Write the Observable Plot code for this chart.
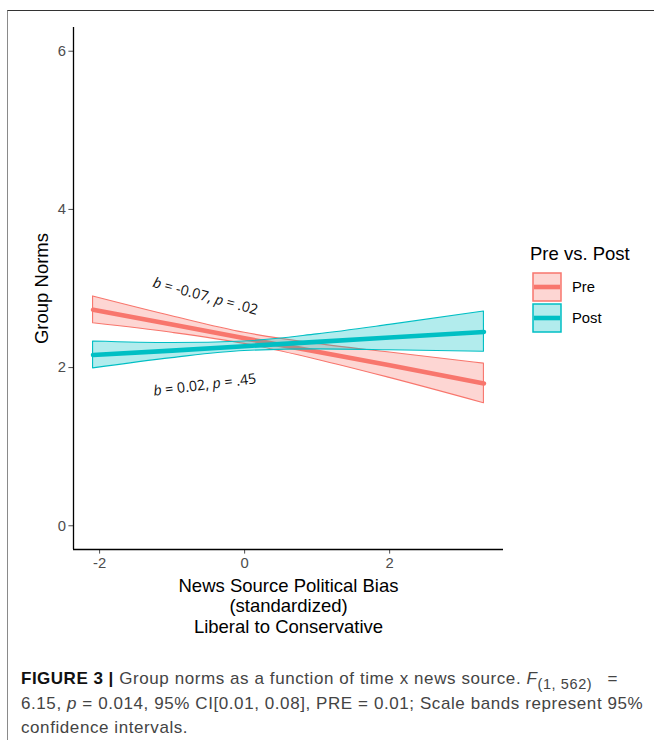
<!DOCTYPE html>
<html>
<head>
<meta charset="utf-8">
<script src="https://cdn.jsdelivr.net/npm/d3@7"></script>
<script src="https://cdn.jsdelivr.net/npm/@observablehq/plot@0.6"></script>
<style>
  html, body { margin: 0; padding: 0; background: #fff; }
  #page { position: relative; width: 654px; height: 740px; overflow: hidden; font-family: "Liberation Sans", Arial, sans-serif; }
  #frame { position: absolute; left: 7px; top: 10px; width: 647px; height: 730px; border-top: 1.5px solid #333; border-left: 1.5px solid #8a8a8a; box-sizing: border-box; }
  #chart { position: absolute; left: 0; top: 0; }
  #legend { position: absolute; left: 530px; top: 242px; color: #000; }
  #legend .title { font-size: 18.5px; line-height: 24px; margin-bottom: 5px; }
  #legend .item { position: relative; height: 31px; display: flex; align-items: center; }
  #legend .item span { font-size: 14.8px; margin-left: 10px; }
  #caption { position: absolute; left: 21px; top: 667px; font-size: 17px; letter-spacing: 0.58px; line-height: 24.5px; color: #444; white-space: nowrap; }
  #caption b { color: #111; letter-spacing: 0.5px; }
  #caption sub { font-size: 14.5px; vertical-align: -5px; line-height: 0; letter-spacing: 0.6px; margin-right: 10px; }
</style>
</head>
<body>
<div id="page">
  <div id="frame"></div>
  <div id="chart"></div>
  <div id="legend"></div>
  <div id="caption">
    <b>FIGURE 3 |</b> Group norms as a function of time x news source. <i>F</i><sub>(1,&nbsp;562)</sub> =<br>
    6.15, <i>p</i> = 0.014, 95% CI[0.01, 0.08], PRE = 0.01; Scale bands represent 95%<br>
    confidence intervals.
  </div>
</div>
<script>
// ---- data ----
const groups = ["Pre", "Post"];
const groupColors = ["#F8766D", "#00BFC4"];
const xs = [-2.09, -1, 0, 1, 2, 3.3];
const preFit  = [2.73, 2.545, 2.37, 2.20, 2.03, 1.80];
const preLow  = [2.56, 2.44, 2.30, 2.10, 1.87, 1.55];
const preHigh = [2.90, 2.65, 2.44, 2.30, 2.19, 2.05];
const postFit  = [2.16, 2.215, 2.27, 2.325, 2.38, 2.45];
const postLow  = [1.99, 2.12, 2.21, 2.23, 2.22, 2.20];
const postHigh = [2.33, 2.31, 2.33, 2.42, 2.54, 2.71];
const xTicks = [-2, 0, 2];
const yTicks = [0, 2, 4, 6];
const xDomain = [-2.36, 3.57];
const yDomain = [-0.3, 6.3];
const annoText = ["b = -0.07, p = .02", "b = 0.02, p = .45"];
const annoX = [-0.54, -0.55];
const annoY = [2.90, 1.78];
const annoAngle = [15, -7];
const xTitle = "News Source Political Bias\n(standardized)\nLiberal to Conservative";
const yTitle = "Group Norms";
const legendTitle = "Pre vs. Post";

const series = {
  Pre:  {fit: preFit,  lo: preLow,  hi: preHigh},
  Post: {fit: postFit, lo: postLow, hi: postHigh}
};
const rows = g => xs.map((x, i) => ({group: g, x, fit: series[g].fit[i], lo: series[g].lo[i], hi: series[g].hi[i]}));
const annos = annoText.map((t, i) => ({t, x: annoX[i], y: annoY[i], a: annoAngle[i]}));

const bandMarks = [];
groups.forEach((g, k) => {
  const c = groupColors[k];
  bandMarks.push(Plot.areaY(rows(g), {x: "x", y1: "lo", y2: "hi", fill: c, fillOpacity: 0.3, stroke: c, strokeWidth: 1.1, curve: "monotone-x"}));
  bandMarks.push(Plot.lineY(rows(g), {x: "x", y: "fit", stroke: c, strokeWidth: 4.6, curve: "linear"}));
});

const fmt = d => String(d);

const chart = Plot.plot({
  width: 654,
  height: 650,
  marginLeft: 73,
  marginRight: 151,
  marginTop: 27,
  marginBottom: 101,
  style: {fontFamily: "Liberation Sans, Arial, sans-serif", background: "transparent"},
  x: {domain: xDomain},
  y: {domain: yDomain},
  marks: [
    ...bandMarks,
    Plot.text(annos.filter(d => d.a > 0), {x: "x", y: "y", text: "t", rotate: annoAngle[0], fontSize: 14.3, fontFamily: "Open Sans, sans-serif", fill: "#111", className: "anno"}),
    Plot.text(annos.filter(d => d.a < 0), {x: "x", y: "y", text: "t", rotate: annoAngle[1], fontSize: 14.3, fontFamily: "Open Sans, sans-serif", fill: "#111", className: "anno"}),
    Plot.axisX({ticks: xTicks, tickFormat: fmt, tickSize: 4.6, tickPadding: 3, fontSize: 14.8, color: "#4d4d4d", label: null}),
    Plot.axisY({ticks: yTicks, tickFormat: fmt, tickSize: 4.6, tickPadding: 3, fontSize: 14.8, color: "#4d4d4d", label: null}),
    Plot.ruleX([xDomain[0]], {stroke: "#000", strokeWidth: 1.3}),
    Plot.ruleY([yDomain[0]], {stroke: "#000", strokeWidth: 1.3}),
    Plot.text([xTitle], {text: d => d, frameAnchor: "bottom", lineAnchor: "top", dy: 28, fontSize: 18.5, lineHeight: 1.1, fill: "#000"}),
    Plot.text([yTitle], {text: d => d, frameAnchor: "left", textAnchor: "middle", rotate: -90, dx: -31, fontSize: 18.5, fill: "#000"})
  ]
});
document.getElementById("chart").appendChild(chart);

// italic b and p in the annotations
chart.querySelectorAll(".anno text").forEach(t => {
  const s = t.textContent;
  t.innerHTML = s.replace(/\b([bp])\b/g, '<tspan font-style="italic">$1</tspan>');
});

// legend
const leg = document.getElementById("legend");
leg.innerHTML = `<div class="title">${legendTitle}</div>` + groups.map((g, k) => {
  const c = groupColors[k];
  return `<div class="item"><svg width="30" height="30" style="margin-left:2px">
    <rect x="1" y="1" width="28" height="28" fill="${c}" fill-opacity="0.3" stroke="${c}" stroke-width="1.5"></rect>
    <line x1="2" x2="28" y1="15" y2="15" stroke="${c}" stroke-width="4.6"></line></svg><span>${g}</span></div>`;
}).join("");
</script>
</body>
</html>
